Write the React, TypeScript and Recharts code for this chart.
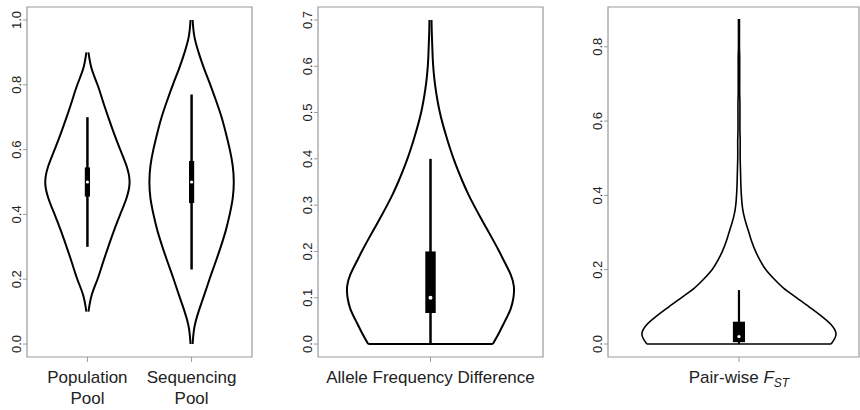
import React from "react";
import {
  ComposedChart,
  Line,
  XAxis,
  YAxis,
  ReferenceArea,
  ReferenceLine,
  ReferenceDot,
} from "recharts";

// half-widths of each violin (x-axis units) read at value levels v
const popPool = [
  { v: 0.1, w: 0.01 }, { v: 0.15, w: 0.04 }, { v: 0.2, w: 0.097 }, { v: 0.25, w: 0.148 },
  { v: 0.3, w: 0.2 }, { v: 0.35, w: 0.255 }, { v: 0.4, w: 0.315 }, { v: 0.45, w: 0.375 },
  { v: 0.5, w: 0.405 }, { v: 0.55, w: 0.375 }, { v: 0.6, w: 0.315 }, { v: 0.65, w: 0.255 },
  { v: 0.7, w: 0.2 }, { v: 0.75, w: 0.148 }, { v: 0.8, w: 0.097 }, { v: 0.85, w: 0.04 },
  { v: 0.9, w: 0.01 },
];

const seqPool = [
  { v: 0, w: 0.01 }, { v: 0.05, w: 0.026 }, { v: 0.1, w: 0.067 }, { v: 0.15, w: 0.12 },
  { v: 0.2, w: 0.172 }, { v: 0.25, w: 0.227 }, { v: 0.3, w: 0.28 }, { v: 0.35, w: 0.328 },
  { v: 0.4, w: 0.366 }, { v: 0.45, w: 0.395 }, { v: 0.5, w: 0.405 }, { v: 0.55, w: 0.395 },
  { v: 0.6, w: 0.367 }, { v: 0.65, w: 0.33 }, { v: 0.7, w: 0.288 }, { v: 0.75, w: 0.236 },
  { v: 0.8, w: 0.18 }, { v: 0.85, w: 0.12 }, { v: 0.9, w: 0.067 }, { v: 0.95, w: 0.026 },
  { v: 1.0, w: 0.01 },
];

const alleleDiff = [
  { v: 0, w: 0.299 }, { v: 0.025, w: 0.33 }, { v: 0.05, w: 0.358 }, { v: 0.075, w: 0.384 },
  { v: 0.1, w: 0.398 }, { v: 0.125, w: 0.4 }, { v: 0.15, w: 0.385 }, { v: 0.175, w: 0.358 },
  { v: 0.2, w: 0.33 }, { v: 0.225, w: 0.3 }, { v: 0.25, w: 0.269 }, { v: 0.275, w: 0.238 },
  { v: 0.3, w: 0.208 }, { v: 0.325, w: 0.18 }, { v: 0.35, w: 0.155 }, { v: 0.375, w: 0.132 },
  { v: 0.4, w: 0.111 }, { v: 0.425, w: 0.092 }, { v: 0.45, w: 0.075 }, { v: 0.475, w: 0.059 },
  { v: 0.5, w: 0.045 }, { v: 0.525, w: 0.034 }, { v: 0.55, w: 0.025 }, { v: 0.575, w: 0.018 },
  { v: 0.6, w: 0.013 }, { v: 0.625, w: 0.01 }, { v: 0.65, w: 0.008 }, { v: 0.675, w: 0.006 },
  { v: 0.7, w: 0.005 },
];

const fst = [
  { v: 0, w: 0.38 }, { v: 0.025, w: 0.4 }, { v: 0.05, w: 0.383 }, { v: 0.075, w: 0.34 },
  { v: 0.1, w: 0.289 }, { v: 0.125, w: 0.237 }, { v: 0.15, w: 0.185 }, { v: 0.175, w: 0.145 },
  { v: 0.2, w: 0.111 }, { v: 0.225, w: 0.087 }, { v: 0.25, w: 0.068 }, { v: 0.275, w: 0.053 },
  { v: 0.3, w: 0.041 }, { v: 0.325, w: 0.029 }, { v: 0.35, w: 0.019 }, { v: 0.375, w: 0.013 },
  { v: 0.4, w: 0.01 }, { v: 0.425, w: 0.008 }, { v: 0.45, w: 0.007 }, { v: 0.475, w: 0.006 },
  { v: 0.5, w: 0.005 }, { v: 0.525, w: 0.005 }, { v: 0.55, w: 0.005 }, { v: 0.575, w: 0.004 },
  { v: 0.6, w: 0.004 }, { v: 0.625, w: 0.004 }, { v: 0.65, w: 0.004 }, { v: 0.675, w: 0.003 },
  { v: 0.7, w: 0.003 }, { v: 0.725, w: 0.003 }, { v: 0.75, w: 0.003 }, { v: 0.775, w: 0.003 },
  { v: 0.8, w: 0.002 }, { v: 0.825, w: 0.002 }, { v: 0.85, w: 0.002 }, { v: 0.875, w: 0.002 },
];

// box plot summaries: whisker lo/hi, quartiles, median
const poolStats = [
  { pos: 1, lo: 0.3, q1: 0.455, med: 0.5, q3: 0.545, hi: 0.7 },
  { pos: 2, lo: 0.23, q1: 0.435, med: 0.5, q3: 0.565, hi: 0.77 },
];
const alleleStats = [{ pos: 1, lo: 0, q1: 0.067, med: 0.1, q3: 0.2, hi: 0.4 }];
const fstStats = [{ pos: 1, lo: 0, q1: 0.005, med: 0.02, q3: 0.06, hi: 0.145 }];

const poolLabels = ["Population\nPool", "Sequencing\nPool"];
const poolTicks = [0, 0.2, 0.4, 0.6, 0.8, 1.0];
const alleleTicks = [0, 0.1, 0.2, 0.3, 0.4, 0.5, 0.6, 0.7];
const fstTicks = [0, 0.2, 0.4, 0.6, 0.8];

const FONT = "'Liberation Sans', Arial, sans-serif";
const TEXT = "#222";
const GRAY = "#9a9a9a";
const BOX_HALF = 0.025;

const YTick = ({ x, y, payload }: any) => (
  <text
    x={x}
    y={y}
    transform={`rotate(-90, ${x}, ${y})`}
    textAnchor="middle"
    fontFamily={FONT}
    fontSize={13}
    fill={TEXT}
  >
    {payload.value.toFixed(1)}
  </text>
);

const makeXTick = (labels: string[]) => ({ x, y, payload }: any) => {
  const lines = labels[payload.index].split("\n");
  return (
    <text x={x} y={y} textAnchor="middle" fontFamily={FONT} fontSize={17} fill={TEXT}>
      {lines.map((l, i) => (
        <tspan key={i} x={x} dy={i === 0 ? 19 : 21}>
          {l}
        </tspan>
      ))}
    </text>
  );
};

const FstTick = ({ x, y }: any) => (
  <text x={x} y={y + 19} textAnchor="middle" fontFamily={FONT} fontSize={17} fill={TEXT}>
    <tspan>Pair-wise </tspan>
    <tspan fontStyle="italic">F</tspan>
    <tspan fontStyle="italic" fontSize={12} dy={4}>ST</tspan>
  </text>
);

interface Violin {
  pos: number;
  data: { v: number; w: number }[];
}

function ViolinPanel(props: {
  left: number;
  width: number;
  yWidth: number;
  right: number;
  xDomain: [number, number];
  yDomain: [number, number];
  yTicks: number[];
  xTicks: number[];
  violins: Violin[];
  stats: typeof poolStats;
  lineW: number;
  whiskerW: number;
  dotR: number;
  flatBottom: boolean;
  tick: any;
}) {
  const { violins, stats } = props;
  return (
    <div style={{ position: "absolute", left: props.left, top: 0 }}>
      <ComposedChart
        width={props.width}
        height={410}
        layout="vertical"
        margin={{ top: 7, right: props.right, bottom: 0, left: 0 }}
      >
        <XAxis
          type="number"
          domain={props.xDomain}
          ticks={props.xTicks}
          interval={0}
          axisLine={false}
          tickLine={{ stroke: GRAY }}
          tickSize={5}
          height={53}
          tick={props.tick}
          allowDataOverflow
        />
        <YAxis
          type="number"
          dataKey="v"
          reversed
          domain={props.yDomain}
          ticks={props.yTicks}
          interval={0}
          axisLine={false}
          tickLine={{ stroke: GRAY }}
          tickSize={4}
          width={props.yWidth}
          tick={<YTick />}
          allowDataOverflow
        />
        <ReferenceArea
          x1={props.xDomain[0]}
          x2={props.xDomain[1]}
          y1={props.yDomain[0]}
          y2={props.yDomain[1]}
          fill="none"
          fillOpacity={0}
          stroke={GRAY}
          strokeWidth={1.2}
          ifOverflow="visible"
        />
        {violins.map((vi, i) => (
          <Line
            key={`l${i}`}
            data={vi.data}
            dataKey={(d: any) => vi.pos - d.w}
            type="natural"
            stroke="#000"
            strokeWidth={props.lineW}
            dot={false}
            activeDot={false}
            isAnimationActive={false}
          />
        ))}
        {violins.map((vi, i) => (
          <Line
            key={`r${i}`}
            data={vi.data}
            dataKey={(d: any) => vi.pos + d.w}
            type="natural"
            stroke="#000"
            strokeWidth={props.lineW}
            dot={false}
            activeDot={false}
            isAnimationActive={false}
          />
        ))}
        {props.flatBottom &&
          violins.map((vi, i) => (
            <ReferenceLine
              key={`b${i}`}
              segment={[
                { x: vi.pos - vi.data[0].w, y: vi.data[0].v },
                { x: vi.pos + vi.data[0].w, y: vi.data[0].v },
              ]}
              stroke="#000"
              strokeWidth={props.lineW}
              ifOverflow="visible"
            />
          ))}
        {stats.map((s, i) => (
          <ReferenceLine
            key={`w${i}`}
            segment={[
              { x: s.pos, y: s.lo },
              { x: s.pos, y: s.hi },
            ]}
            stroke="#000"
            strokeWidth={props.whiskerW}
            ifOverflow="visible"
          />
        ))}
        {stats.map((s, i) => (
          <ReferenceArea
            key={`q${i}`}
            x1={s.pos - BOX_HALF}
            x2={s.pos + BOX_HALF}
            y1={s.q1}
            y2={s.q3}
            fill="#000"
            fillOpacity={1}
            stroke="none"
            ifOverflow="visible"
          />
        ))}
        {stats.map((s, i) => (
          <ReferenceDot
            key={`m${i}`}
            x={s.pos}
            y={s.med}
            r={props.dotR}
            fill="#fff"
            stroke="none"
            ifOverflow="visible"
          />
        ))}
      </ComposedChart>
    </div>
  );
}

export default function App() {
  return (
    <div
      style={{
        position: "absolute",
        left: 0,
        top: 0,
        width: 860,
        height: 410,
        overflow: "hidden",
        background: "#fff",
      }}
    >
      <ViolinPanel
        left={0}
        width={260}
        yWidth={27}
        right={8}
        xDomain={[0.42, 2.58]}
        yDomain={[-0.04, 1.04]}
        yTicks={poolTicks}
        xTicks={[1, 2]}
        violins={[
          { pos: 1, data: popPool },
          { pos: 2, data: seqPool },
        ]}
        stats={poolStats}
        lineW={2}
        whiskerW={2.5}
        dotR={1.6}
        flatBottom={false}
        tick={makeXTick(poolLabels)}
      />
      <ViolinPanel
        left={290}
        width={261}
        yWidth={28}
        right={8}
        xDomain={[0.46, 1.54]}
        yDomain={[-0.028, 0.728]}
        yTicks={alleleTicks}
        xTicks={[1]}
        violins={[{ pos: 1, data: alleleDiff }]}
        stats={alleleStats}
        lineW={2}
        whiskerW={2.5}
        dotR={2}
        flatBottom={true}
        tick={makeXTick(["Allele Frequency Difference"])}
      />
      <ViolinPanel
        left={580}
        width={280}
        yWidth={28}
        right={1}
        xDomain={[0.46, 1.495]}
        yDomain={[-0.035, 0.907]}
        yTicks={fstTicks}
        xTicks={[1]}
        violins={[{ pos: 1, data: fst }]}
        stats={fstStats}
        lineW={1.6}
        whiskerW={2.2}
        dotR={1.6}
        flatBottom={true}
        tick={<FstTick />}
      />
    </div>
  );
}
